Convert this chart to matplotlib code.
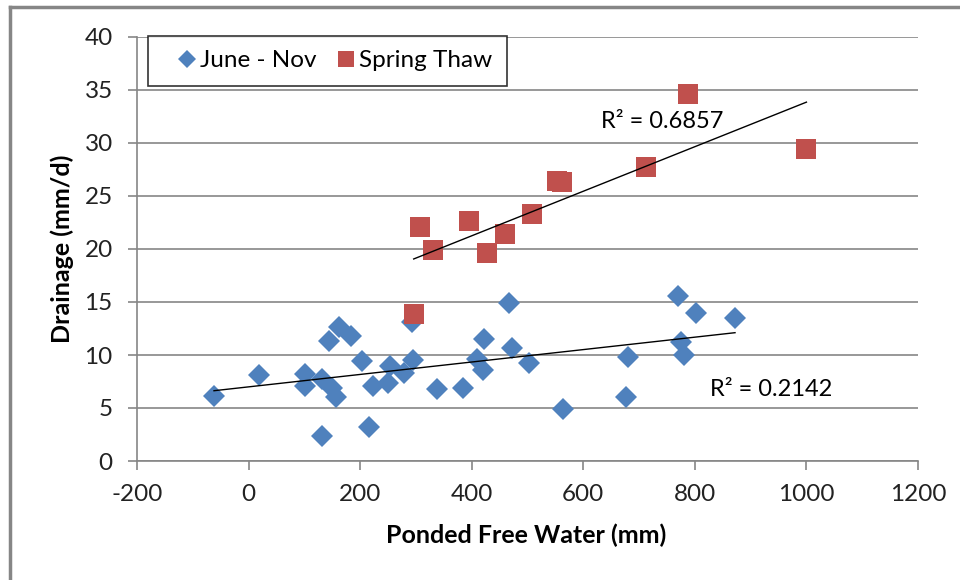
import numpy as np
import matplotlib
matplotlib.use('Agg')
import matplotlib.pyplot as plt
from matplotlib.lines import Line2D

plt.rcParams['font.family'] = ['Lato', 'DejaVu Sans']
plt.rcParams['axes.unicode_minus'] = False

# June - Nov points (ponded free water mm, drainage mm/d)
jn_x = [-62, 19, 101, 101, 131, 131, 144, 162, 183, 150, 157, 203, 216, 223,
        250, 253, 278, 295, 293, 338, 384, 422, 409, 420, 467, 472, 502, 563,
        680, 677, 770, 802, 872, 775, 780]
jn_y = [6.1, 8.1, 8.2, 7.1, 7.7, 2.4, 11.3, 12.6, 11.8, 6.9, 6.0, 9.4, 3.2, 7.1,
        7.4, 9.0, 8.3, 9.5, 13.1, 6.8, 6.9, 11.5, 9.6, 8.6, 14.9, 10.7, 9.2, 4.9,
        9.8, 6.0, 15.6, 14.0, 13.5, 11.2, 10.0]

# Spring Thaw points
st_x = [296, 308, 330, 395, 427, 459, 508, 552, 561, 712, 787, 1000]
st_y = [13.9, 22.1, 19.9, 22.6, 19.6, 21.4, 23.3, 26.4, 26.3, 27.7, 34.6, 29.4]

r2_labels = ['R² = 0.6857', 'R² = 0.2142']

blue = '#4F81BD'
red = '#C0504D'
grey = '#868686'

fig = plt.figure(figsize=(9.6, 5.8), dpi=100)
ax = fig.add_axes([137/960, 1-461/580, 781/960, 424/580])

ax.plot(jn_x, jn_y, 'D', color=blue, ms=11, mec=blue, mew=0, label='June - Nov', zorder=3)
ax.plot(st_x, st_y, 's', color=red, ms=15, mec=red, mew=0, label='Spring Thaw', zorder=4)

# linear trendlines
for xs, ys in [(jn_x, jn_y), (st_x, st_y)]:
    xs = np.array(xs, dtype=float)
    ys = np.array(ys, dtype=float)
    m, b = np.polyfit(xs, ys, 1)
    xx = np.array([xs.min(), xs.max()])
    ax.plot(xx, m*xx + b, color='black', lw=1, zorder=5)

ax.text(741, 32.0, r2_labels[0], fontsize=17, ha='center', va='center', zorder=6)
ax.text(936, 6.7, r2_labels[1], fontsize=17, ha='center', va='center', zorder=6)

ax.set_xlim(-200, 1200)
ax.set_ylim(0, 40)
ax.set_xticks(np.arange(-200, 1201, 200))
ax.set_yticks(np.arange(0, 41, 5))
ax.yaxis.grid(True, color=grey, lw=1.2)
ax.set_axisbelow(True)
for s in ['top', 'right']:
    ax.spines[s].set_visible(False)
for s in ['left', 'bottom']:
    ax.spines[s].set_color(grey)
    ax.spines[s].set_linewidth(1.2)
ax.tick_params(direction='out', length=6.5, width=1.2, color=grey,
               labelsize=17.5, labelcolor='#222222')
ax.tick_params(axis='x', pad=10)
ax.tick_params(axis='y', pad=11)

fig.text(526/960, 1-535/580, 'Ponded Free Water (mm)', fontsize=18,
         fontweight='bold', ha='center', va='center')
fig.text(62/960, 1-249/580, 'Drainage (mm/d)', fontsize=18, fontweight='bold',
         ha='center', va='center', rotation=90)

leg = ax.legend(loc='upper left', bbox_to_anchor=(11/781, 1.003), ncol=2,
                fontsize=17.5, frameon=True, fancybox=False, edgecolor='black',
                borderpad=0.6, handlelength=2.0, handletextpad=-0.45,
                columnspacing=0.2, markerscale=0.8, borderaxespad=0)
leg.get_frame().set_linewidth(1.2)
leg.set_zorder(10)

# chart area border (top and left visible)
fig.add_artist(Line2D([10/960, 1], [1-7/580, 1-7/580], color=grey, lw=2.5))
fig.add_artist(Line2D([10/960, 10/960], [0, 1-7/580], color=grey, lw=2.5))

fig.savefig('out.png', dpi=100)
